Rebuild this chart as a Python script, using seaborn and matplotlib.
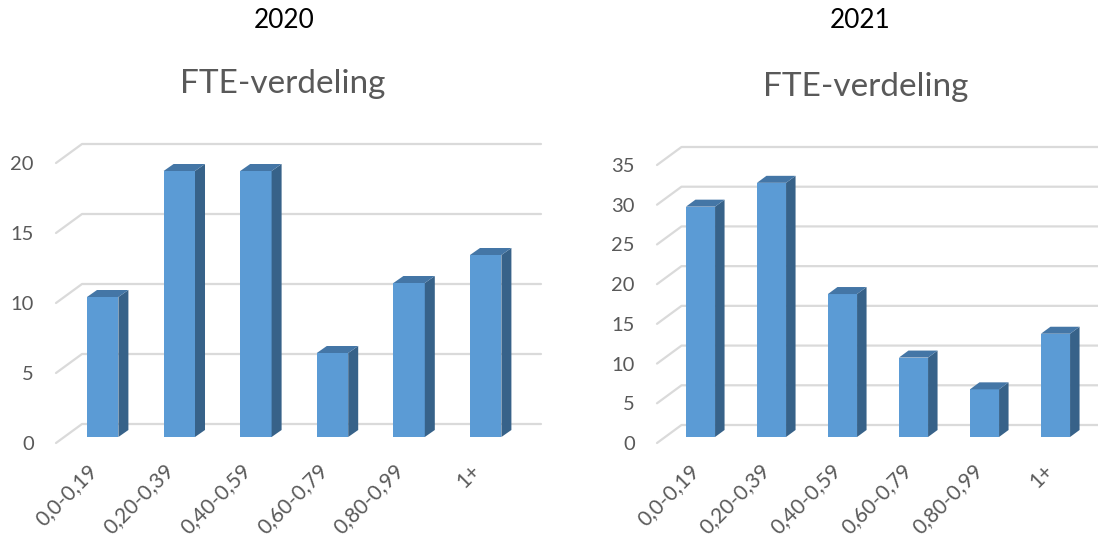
import numpy as np
import pandas as pd
import seaborn as sns
import matplotlib.pyplot as plt
from matplotlib.lines import Line2D
from matplotlib.patches import Polygon
from matplotlib.transforms import Affine2D, IdentityTransform

# Chart data
fte_classes = ["0,0-0,19", "0,20-0,39", "0,40-0,59", "0,60-0,79", "0,80-0,99", "1+"]
values_2020 = [10, 19, 19, 6, 11, 13]
values_2021 = [29, 32, 18, 10, 6, 13]
ticks_2020 = [0, 5, 10, 15, 20]
ticks_2021 = [0, 5, 10, 15, 20, 25, 30, 35]

W, H = 1098, 540
FRONT = "#5B9BD5"
SIDE = "#376289"
TOP = "#4476A6"
GRID = "#DADADA"
TEXT = "#595959"

sns.set_theme(style="white")
plt.rcParams["font.family"] = ["Lato", "DejaVu Sans"]

fig = plt.figure(figsize=(W / 100, H / 100), dpi=100)


def draw_chart(values, ticks, year, x0, band, y_zero, y_top, back, shift, depth, right_end, year_xy, title_xy, label_shift):
    # axes cover the front plane of the fake 3D box, in pixels
    ax = fig.add_axes([x0 / W, 1 - y_zero / H, band * 6 / W, (y_zero - y_top) / H])
    df = pd.DataFrame({"klasse": fte_classes, "aantal": values})
    sns.barplot(data=df, x="klasse", y="aantal", color=FRONT, saturation=1, width=0.41,
                linewidth=0, ax=ax, zorder=3)
    ax.set_xlim(-0.5, 5.5)
    ax.set_ylim(0, ticks[-1])
    ax.set_xlabel("")
    ax.set_ylabel("")
    sns.despine(ax=ax, left=True, bottom=True)
    ax.patch.set_alpha(0)

    to_px = ax.transData.transform
    px = IdentityTransform()

    # floor diagonal and back wall lines
    for t in ticks:
        fx, fy = to_px((-0.5, t))
        ax.add_line(Line2D([fx, fx + back[0], right_end], [fy, fy + back[1], fy + back[1]],
                           transform=px, color=GRID, lw=1.6, zorder=1, clip_on=False))

    # move the bars into the box and give them a side and a top
    move = Affine2D().translate(*shift)
    for bar in list(ax.patches):
        bar.set_transform(ax.transData + move)
        bar.set_clip_on(False)
        x_l, x_r = bar.get_x(), bar.get_x() + bar.get_width()
        (lx, by), (rx, ty) = to_px((x_l, 0)), to_px((x_r, bar.get_height()))
        lx, rx, by, ty = lx + shift[0], rx + shift[0], by + shift[1], ty + shift[1]
        dx, dy = depth
        ax.add_patch(Polygon([(rx, by), (rx + dx, by + dy), (rx + dx, ty + dy), (rx, ty)],
                             transform=px, color=SIDE, lw=0, zorder=3, clip_on=False))
        ax.add_patch(Polygon([(lx, ty), (rx, ty), (rx + dx, ty + dy), (lx + dx, ty + dy)],
                             transform=px, color=TOP, lw=0, zorder=3, clip_on=False))

    ax.set_yticks(ticks)
    ax.tick_params(axis="y", length=0, pad=16, labelsize=14.5, labelcolor=TEXT)
    ax.tick_params(axis="x", length=0, pad=11, labelsize=15, labelcolor=TEXT)
    label_move = Affine2D().translate(*label_shift)
    for lab in ax.get_xticklabels():
        lab.set_rotation(45)
        lab.set_ha("right")
        lab.set_va("top")
        lab.set_rotation_mode("anchor")
        lab.set_transform(lab.get_transform() + label_move)

    fig.text(year_xy[0] / W, 1 - year_xy[1] / H, year, ha="center", va="center", fontsize=18.8, color="black")
    fig.text(title_xy[0] / W, 1 - title_xy[1] / H, "FTE-verdeling", ha="center", va="center", fontsize=24, color=TEXT)


draw_chart(values_2020, ticks_2020, "2020", x0=56, band=76.6, y_zero=443, y_top=163, back=(26, 19),
           shift=(8.4, 6), depth=(10, 7), right_end=541, year_xy=(284, 21), title_xy=(283, 84),
           label_shift=(-7, -2))
draw_chart(values_2021, ticks_2021, "2021", x0=657, band=71, y_zero=443, y_top=165, back=(24.5, 18),
           shift=(8, 6), depth=(9.5, 7), right_end=1098, year_xy=(860, 21), title_xy=(866, 87),
           label_shift=(-4, -2))

fig.savefig("out.png", dpi=100)
